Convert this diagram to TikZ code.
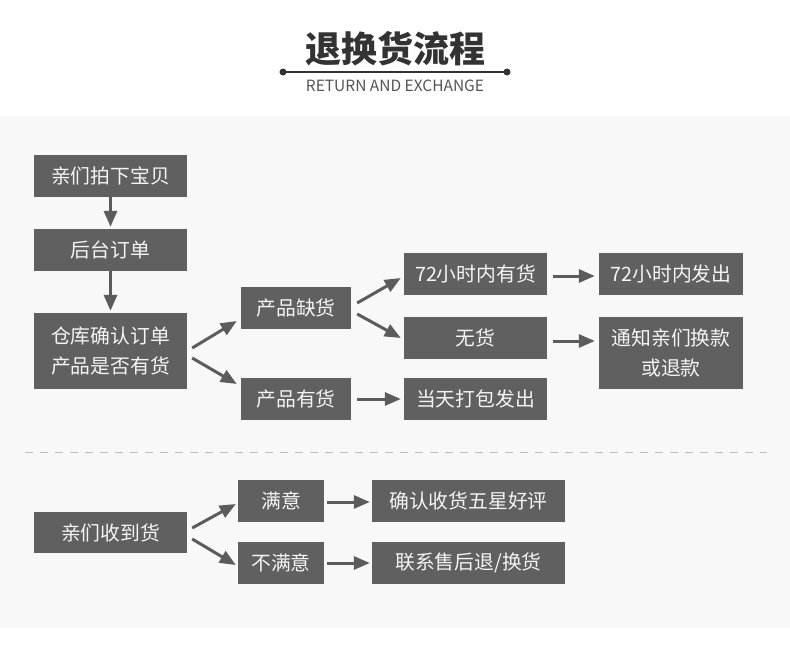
\documentclass[tikz,border=0pt]{standalone}
\usepackage{fontspec}
\setmainfont{Noto Sans CJK SC}
\usetikzlibrary{arrows.meta,calc}
\definecolor{boxgray}{HTML}{606060}
\definecolor{arrgray}{HTML}{5C5C5C}
\definecolor{bandgray}{HTML}{F8F8F8}
\definecolor{titlegray}{HTML}{333333}
\definecolor{subgray}{HTML}{555555}
\definecolor{dashgray}{HTML}{BBBBBB}
\definecolor{boxtext}{HTML}{F4F4F4}
\tikzset{
  box/.style={fill=boxgray, text=boxtext, inner sep=0pt, font=\fontsize{19.8}{30}\selectfont, align=center, minimum height=42pt},
  arr/.style={draw=arrgray, line width=3pt, -{Triangle[length=16pt,width=13pt]}}
}
\begin{document}
\begin{tikzpicture}[x=1pt,y=-1pt]
\useasboundingbox (0,0) rectangle (790,656);
\fill[white] (0,0) rectangle (790,656);
\fill[bandgray] (0,116) rectangle (790,628);
% title
\node[text=titlegray, font=\fontsize{36}{40}\selectfont\bfseries] (title) at (395,49) {退换货流程};
\coordinate (la) at (283,72);
\coordinate (lb) at (507,72);
\draw[titlegray, line width=1.5pt] (la) -- (lb);
\fill[titlegray] (la) circle (3.5);
\fill[titlegray] (lb) circle (3.5);
\node[text=subgray, font=\fontsize{15.5}{18}\selectfont] (sub) at (395,86) {RETURN AND EXCHANGE};
% boxes
\node[box, minimum width=153pt] (b1) at (110.5,175.5) {亲们拍下宝贝};
\node[box, minimum width=153pt] (b2) at (110.5,250) {后台订单};
\node[box, minimum width=153pt, minimum height=76pt] (b3) at (110.5,351) {仓库确认订单\\产品是否有货};
\node[box, minimum width=110pt] (p1) at (296,308) {产品缺货};
\node[box, minimum width=110pt] (p2) at (296,399) {产品有货};
\node[box, minimum width=143pt] (q1) at (475.5,274) {72小时内有货};
\node[box, minimum width=143pt] (q2) at (475.5,338) {无货};
\node[box, minimum width=143pt] (q3) at (475.5,399) {当天打包发出};
\node[box, minimum width=144pt] (r1) at (671,274) {72小时内发出};
\node[box, minimum width=144pt, minimum height=72pt] (r2) at (671,353) {通知亲们换款\\或退款};
\node[box, minimum width=153pt, minimum height=41pt] (c1) at (110.5,532.5) {亲们收到货};
\node[box, minimum width=86pt] (s1) at (281,501) {满意};
\node[box, minimum width=86pt] (s2) at (281,563) {不满意};
\node[box, minimum width=193pt] (t1) at (468.5,501) {确认收货五星好评};
\node[box, minimum width=193pt] (t2) at (468.5,563) {联系售后退/换货};
% dashed separator
\coordinate (d1) at (25,452);
\coordinate (d2) at (767,452);
\draw[dashgray, line width=1pt, dash pattern=on 8pt off 7pt] (d1) -- (d2);
% arrows
\draw[arr] (b1.south) -- ($(b2.north)+(0,-2)$);
\draw[arr] (b2.south) -- ($(b3.north)+(0,-2)$);
\draw[arr] ($(b3.east)+(5,-3)$) -- ($(p1.west)+(-4,13)$);
\draw[arr] ($(b3.east)+(5,7)$) -- ($(p2.west)+(-4,-15)$);
\draw[arr] ($(p1.east)+(6,-5)$) -- ($(q1.west)+(-3,4)$);
\draw[arr] ($(p1.east)+(6,6)$) -- ($(q2.west)+(-3,0)$);
\draw[arr] ($(p2.east)+(6,0)$) -- ($(q3.west)+(-3,0)$);
\draw[arr] ($(q1.east)+(6,2)$) -- ($(r1.west)+(-4,2)$);
\draw[arr] ($(q2.east)+(6,3)$) -- ($(r2.west)+(-4,-12)$);
\draw[arr] ($(c1.east)+(5,-4.5)$) -- ($(s1.west)+(-2,3)$);
\draw[arr] ($(c1.east)+(5,6.5)$) -- ($(s2.west)+(-2,2)$);
\draw[arr] ($(s1.east)+(3,1)$) -- ($(t1.west)+(-2,1)$);
\draw[arr] ($(s2.east)+(3,0)$) -- ($(t2.west)+(-2,0)$);
\end{tikzpicture}
\end{document}
